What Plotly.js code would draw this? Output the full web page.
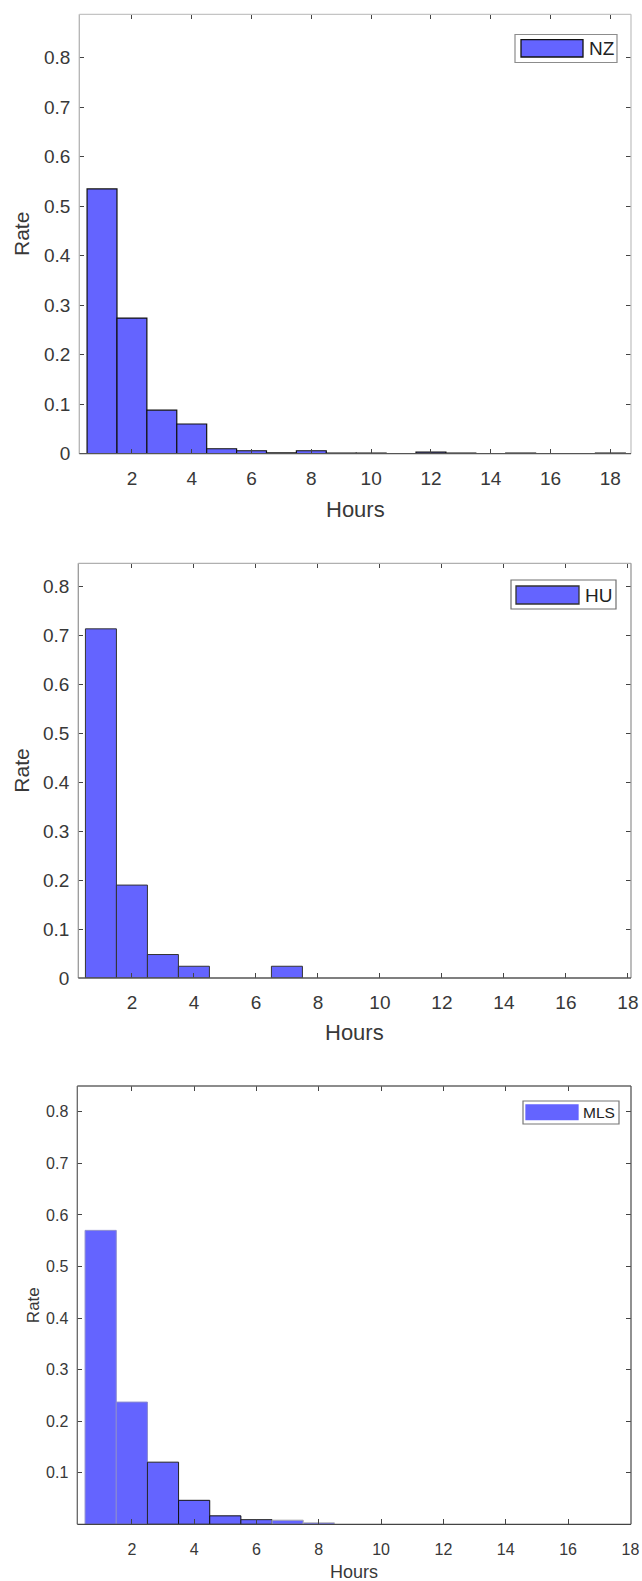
<!DOCTYPE html>
<html>
<head>
<meta charset="utf-8">
<script src="https://cdn.plot.ly/plotly-3.0.1.min.js"></script>
<style>html,body{margin:0;padding:0;background:#fff;}#chart{width:642px;height:1581px;}</style>
</head>
<body>
<div id="chart"></div>
<script>
// ---- data ----
var binCenters = [1,2,3,4,5,6,7,8,9,10,11,12,13,14,15,16,17,18];
var nzRate  = [0.535,0.274,0.088,0.060,0.010,0.006,0.0015,0.006,0.0012,0.0012,null,0.003,0.0012,null,0.0012,null,null,0.0012];
var huRate  = [0.714,0.190,0.048,0.024,null,null,0.024,null,null,null,null,null,null,null,null,null,null,null];
var mlsRate = [0.570,0.237,0.1205,0.0465,0.0164,0.009,0.008,0.003,null,null,null,null,null,null,null,null,null,null];
var seriesNames = ["NZ","HU","MLS"];
var xTicks = [2,4,6,8,10,12,14,16,18];
var yTicksAll = [0,0.1,0.2,0.3,0.4,0.5,0.6,0.7,0.8];
var yTicksMls = [0.1,0.2,0.3,0.4,0.5,0.6,0.7,0.8];
var xLabel = "Hours", yLabel = "Rate";

// ---- layout helpers (pixel -> paper) ----
var W = 642, H = 1581;
function px(x){ return x / W; }
function py(y){ return 1 - y / H; }
var FILL = '#6464ff';
var FONT = 'Liberation Sans, Arial, Helvetica, sans-serif';
var TXT = '#383838';

var panels = [
  {x0:79.3, x1:631, y0:14.3, y1:453.7, xr:[0.24,18.69], yr:[0,0.888], yt:yTicksAll, tf:19, hf:22, rf:21, xs:11,
   hoursY:509, rateX:22, lineColor:'#111', lineW:1.2,
   leg:{b:[515,34.5,617,62.5], s:[521,39.7,583,57], t:587, ty:48.5, f:19, sl:'#111', bc:'#8c8c8c'},
   borders:{l:'#b4b4b4', t:'#c4c4c4', r:'#c4c4c4', b:'#555'}},
  {x0:78.3, x1:631, y0:563.3, y1:978, xr:[0.27,18.1], yr:[0,0.848], yt:yTicksAll, tf:19, hf:22, rf:21, xs:11,
   hoursY:1032, rateX:22, lineColor:'#333', lineW:1,
   leg:{b:[511,580,616,609], s:[516,586,579,604], t:583, ty:595, f:19, sl:'#333', bc:'#707070'},
   borders:{l:'#999', t:'#b0b0b0', r:'#999', b:'#555'}},
  {x0:77.3, x1:631, y0:1086, y1:1524.3, xr:[0.25,18.02], yr:[0,0.85], yt:yTicksMls, tf:16, hf:18, rf:17, xs:14,
   hoursY:1572, rateX:33, lineColor:['#8a8ad0','#8a8ad0','#222','#111','#111','#222','#aaa','#bbb','#bbb','#bbb','#bbb','#bbb','#bbb','#bbb','#bbb','#bbb','#bbb','#bbb'], lineW:1,
   leg:{b:[523,1101,619,1124], s:[526,1105,578,1119.5], t:581, ty:1112.5, f:15.5, sl:'#6464ff', bc:'#777'},
   borders:{l:'#666', t:'#666', r:'#555', b:'#444'}}
];
var values = [nzRate, huRate, mlsRate];

var data = [], shapes = [], annotations = [];
var layout = {width:W, height:H, margin:{l:0,r:0,t:0,b:0}, showlegend:false,
  paper_bgcolor:'#fff', plot_bgcolor:'#fff', bargap:0, font:{family:FONT, color:TXT}};

panels.forEach(function(p, i){
  var sfx = i === 0 ? '' : String(i+1);
  data.push({type:'bar', x:binCenters, y:values[i], width:1, name:seriesNames[i],
    xaxis:'x'+sfx, yaxis:'y'+sfx,
    marker:{color:FILL, line:{color:p.lineColor, width:p.lineW}}, hoverinfo:'x+y'});
  layout['xaxis'+sfx] = {domain:[px(p.x0), px(p.x1)], range:p.xr, anchor:'y'+sfx,
    tickvals:xTicks, ticks:'inside', ticklen:5, tickwidth:1, tickcolor:'#444', mirror:'ticks',
    showline:false, showgrid:false, zeroline:false, fixedrange:true,
    tickfont:{size:p.tf, color:TXT, family:FONT}, ticklabelstandoff:p.xs};
  layout['yaxis'+sfx] = {domain:[py(p.y1), py(p.y0)], range:p.yr, anchor:'x'+sfx,
    tickvals:p.yt, ticks:'inside', ticklen:5, tickwidth:1, tickcolor:'#444', mirror:'ticks',
    showline:false, showgrid:false, zeroline:false, fixedrange:true,
    tickfont:{size:p.tf, color:TXT, family:FONT}, ticklabelstandoff:8};
  var xr = 'x'+sfx+' domain', yr = 'y'+sfx+' domain';
  // axes box
  shapes.push({type:'line', xref:xr, yref:yr, x0:0, x1:0, y0:0, y1:1, line:{color:p.borders.l, width:1.3}});
  shapes.push({type:'line', xref:xr, yref:yr, x0:0, x1:1, y0:1, y1:1, line:{color:p.borders.t, width:1.3}});
  shapes.push({type:'line', xref:xr, yref:yr, x0:1, x1:1, y0:0, y1:1, line:{color:p.borders.r, width:1.3}});
  shapes.push({type:'line', xref:xr, yref:yr, x0:0, x1:1, y0:0, y1:0, line:{color:p.borders.b, width:1.3}});
  // legend box
  var L = p.leg;
  shapes.push({type:'rect', xref:'paper', yref:'paper', x0:px(L.b[0]), x1:px(L.b[2]), y0:py(L.b[3]), y1:py(L.b[1]),
    fillcolor:'#fff', line:{color:L.bc, width:1.2}});
  shapes.push({type:'rect', xref:'paper', yref:'paper', x0:px(L.s[0]), x1:px(L.s[2]), y0:py(L.s[3]), y1:py(L.s[1]),
    fillcolor:FILL, line:{color:L.sl, width:1.3}});
  annotations.push({xref:'paper', yref:'paper', x:px(L.t), y:py(L.ty), xanchor:'left', yanchor:'middle',
    text:seriesNames[i], showarrow:false, font:{size:L.f, color:'#222', family:FONT}});
  // axis titles
  annotations.push({xref:'paper', yref:'paper', x:px((p.x0+p.x1)/2), y:py(p.hoursY), xanchor:'center', yanchor:'middle',
    text:xLabel, showarrow:false, font:{size:p.hf, color:TXT, family:FONT}});
  annotations.push({xref:'paper', yref:'paper', x:px(p.rateX), y:py((p.y0+p.y1)/2), xanchor:'center', yanchor:'middle',
    text:yLabel, textangle:-90, showarrow:false, font:{size:p.rf, color:TXT, family:FONT}});
});
layout.shapes = shapes;
layout.annotations = annotations;
Plotly.newPlot('chart', data, layout, {displayModeBar:false, staticPlot:true});
</script>
</body>
</html>
